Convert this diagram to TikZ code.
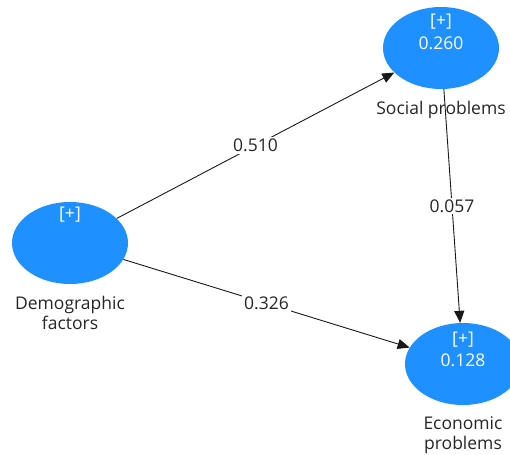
\documentclass[tikz,border=0pt]{standalone}
\usepackage{fontspec}
\setmainfont{Open Sans}
\usetikzlibrary{shapes.geometric,arrows.meta,positioning}
\definecolor{lvblue}{RGB}{30,144,255}

\begin{document}
\begin{tikzpicture}[x=1pt, y=-1pt, font=\fontsize{17.5}{20}\selectfont,
    latent/.style={ellipse, fill=lvblue, minimum width=116pt, minimum height=82pt, inner sep=0pt},
    intext/.style={text=white, inner sep=0pt},
    caption/.style={text=black!85, align=center, inner sep=2pt},
    path/.style={draw=black!90, line width=0.9pt, -{Triangle[length=12pt,width=10pt]}},
    coef/.style={fill=white, inner sep=2pt, text=black!85}]
  \useasboundingbox (0,0) rectangle (510,454);
  % constructs
  \node[latent] (dem) at (70,243) {};
  \node[latent] (soc) at (441,48) {};
  \node[latent] (eco) at (463,364) {};
  \node[intext] (dem-plus) at ([yshift=28pt]dem.center) {[+]};
  \node[intext] (soc-plus) at ([yshift=26pt]soc.center) {[+]};
  \node[intext] (soc-r2) at ([yshift=5pt]soc.center) {0.260};
  \node[intext] (eco-plus) at ([yshift=24pt]eco.center) {[+]};
  \node[intext] (eco-r2) at ([yshift=4pt]eco.center) {0.128};
  \node[caption, below=10pt of dem] (dem-lab) {Demographic\\factors};
  \node[caption, below=10pt of soc] (soc-lab) {Social problems};
  \node[caption, below=9pt of eco] (eco-lab) {Economic\\problems};
  % paths
  \draw[path] (dem) -- node[coef] (p-ds) {0.510} (soc);
  \draw[path] (dem) -- node[coef] (p-de) {0.326} (eco);
  \draw[path] (soc) -- node[coef] (p-se) {0.057} (eco);
\end{tikzpicture}
\end{document}
